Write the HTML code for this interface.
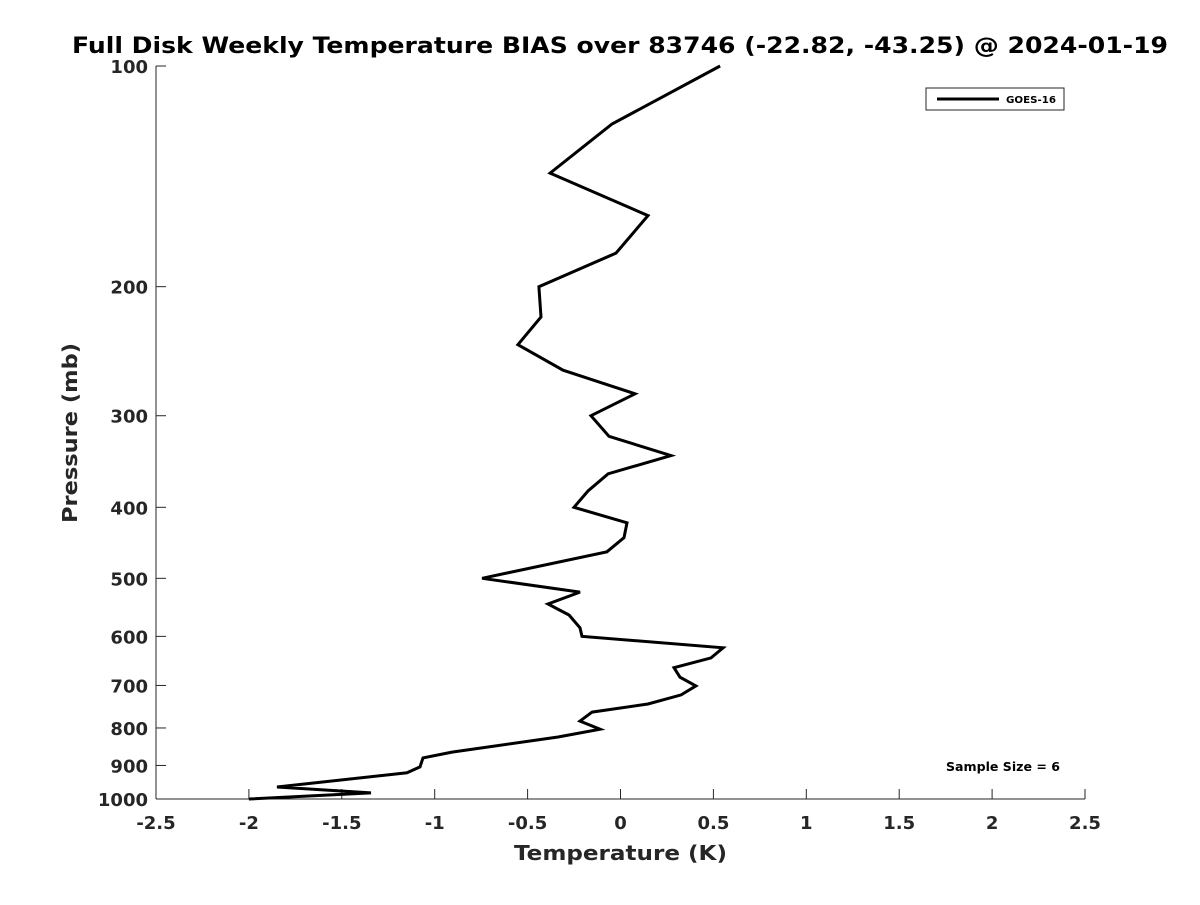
<!DOCTYPE html>
<html><head><meta charset="utf-8"><style>
body{margin:0;background:#fff}
svg text{font-family:"DejaVu Sans","Liberation Sans",sans-serif;font-weight:bold;fill:#262626}
</style></head><body>
<svg id="chart" width="1200" height="900" xmlns="http://www.w3.org/2000/svg">
<rect width="1200" height="900" fill="#fff"/>
<text x="72" y="53" textLength="1096" lengthAdjust="spacingAndGlyphs" font-size="22" style="fill:#000">Full Disk Weekly Temperature BIAS over 83746 (-22.82, -43.25) @ 2024-01-19</text>
<g id="axes"></g>
<path id="series" fill="none" stroke="#000" stroke-width="3" stroke-linejoin="miter"/>
<text x="514" y="860" textLength="213" lengthAdjust="spacingAndGlyphs" font-size="20">Temperature (K)</text>
<text transform="translate(77,523) rotate(-90)" textLength="180" lengthAdjust="spacingAndGlyphs" font-size="20">Pressure (mb)</text>
<g>
<rect x="926" y="88" width="138" height="22" fill="#fff" stroke="#262626" stroke-width="1"/>
<line x1="937" y1="99" x2="999" y2="99" stroke="#000" stroke-width="3"/>
<text x="1006" y="103" textLength="50" lengthAdjust="spacingAndGlyphs" font-size="10" style="fill:#000">GOES-16</text>
</g>
<text x="946" y="771" textLength="114" lengthAdjust="spacingAndGlyphs" font-size="12" style="fill:#000">Sample Size = 6</text>
</svg>
<script>
const temps = [0.536,-0.046,-0.379,0.148,-0.024,-0.439,-0.428,-0.552,-0.309,0.078,-0.159,-0.062,0.272,-0.067,-0.175,-0.250,0.035,0.019,-0.073,-0.745,-0.218,-0.390,-0.277,-0.218,-0.207,0.552,0.487,0.288,0.320,0.406,0.326,0.148,-0.153,-0.218,-0.110,-0.336,-0.907,-1.063,-1.079,-1.149,-1.849,-1.343,-2.000];
const pressures = [100,120,140,160,180,200,220,240,260,280,300,320,340,360,380,400,420,440,460,500,522,542,561,584,600,622,642,662,682,701,721,742,761,783,803,823,863,879,904,921,963,981,1000];
const xTicks = [-2.5,-2,-1.5,-1,-0.5,0,0.5,1,1.5,2,2.5];
const xTickLabels = ["-2.5","-2","-1.5","-1","-0.5","0","0.5","1","1.5","2","2.5"];
const yTicks = [100,200,300,400,500,600,700,800,900,1000];

const X0=156,X1=1085,Y0=66,Y1=799;
const xs=v=>X0+(v+2.5)/5*(X1-X0);
const ys=p=>Y0+(Math.log10(p)-2)*(Y1-Y0);
const NS="http://www.w3.org/2000/svg";
const axes=document.getElementById('axes');
function mk(tag,attrs,parent){const e=document.createElementNS(NS,tag);for(const k in attrs)e.setAttribute(k,attrs[k]);parent.appendChild(e);return e;}
const xa=mk('line',{x1:X0,y1:Y1,x2:X1,y2:Y1,stroke:'#262626','stroke-width':1},axes);


const ya=mk('line',{x1:X0,y1:Y0,x2:X0,y2:Y1,stroke:'#262626','stroke-width':1},axes);


xTicks.forEach((t,i)=>{
  const x=xs(t);
  const tk=mk('line',{x1:x,y1:Y1,x2:x,y2:Y1-10,stroke:'#262626','stroke-width':1},axes);
  
  
  const lb=mk('text',{x:x,y:829,'text-anchor':'middle','font-size':18},axes);
  lb.textContent=xTickLabels[i];
  
  
});
yTicks.forEach(p=>{
  const y=ys(p);
  const tk=mk('line',{x1:X0,y1:y,x2:X0+10,y2:y,stroke:'#262626','stroke-width':1},axes);
  
  
  const lb=mk('text',{x:X0-8,y:y+7,'text-anchor':'end','font-size':18},axes);
  lb.textContent=String(p);
  
  
});
document.getElementById('series').setAttribute('d',temps.map((t,i)=>(i?'L':'M')+xs(t).toFixed(1)+' '+ys(pressures[i]).toFixed(1)).join(' '));
</script>
</body></html>
